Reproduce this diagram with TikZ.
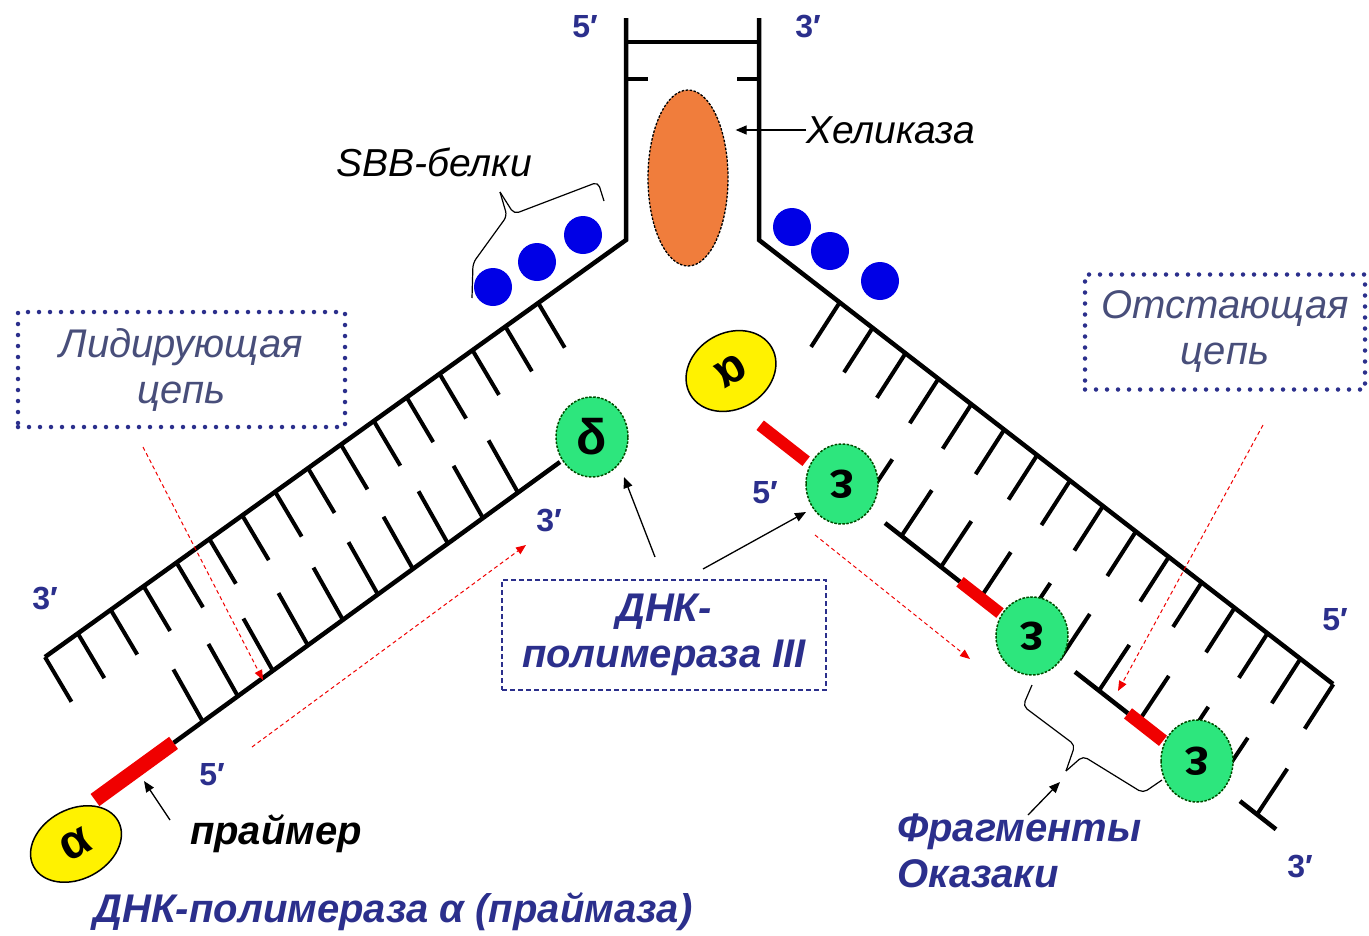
\documentclass[tikz,border=0pt]{standalone}
\usepackage{fontspec}
\setmainfont{Liberation Sans}
\usetikzlibrary{shapes.geometric,calc,arrows.meta}
\definecolor{navy}{RGB}{43,47,140}
\definecolor{slate}{RGB}{72,78,122}
\definecolor{grn}{RGB}{45,230,125}
\definecolor{orng}{RGB}{240,125,60}
\definecolor{ssbblue}{RGB}{0,0,230}
\definecolor{primred}{RGB}{240,0,0}
\begin{document}
\begin{tikzpicture}[x=1pt,y=-1pt,
  strand/.style={line width=4.5pt},
  rung/.style={line width=4pt},
  primerbar/.style={line width=13pt, draw=primred},
  enzyme/.style={ellipse, fill=grn, draw=green!30!black, line width=1.5pt,
    dash pattern=on 2.5pt off 1.5pt, minimum width=72pt, minimum height=80pt,
    inner sep=0pt, font=\bfseries\fontsize{52}{52}\selectfont},
  primase/.style={ellipse, fill=yellow, draw=black, line width=1.5pt,
    minimum width=96pt, minimum height=70pt, inner sep=0pt,
    font=\bfseries\fontsize{48}{48}\selectfont},
  ssb/.style={circle, fill=ssbblue, minimum size=38pt, inner sep=0pt},
  tag/.style={font=\bfseries\fontsize{32}{32}\selectfont, text=navy, inner sep=0pt},
  dotbox/.style={draw=navy, line width=4.5pt, line cap=round,
    dash pattern=on 0pt off 11pt, text=slate, align=center,
    font=\itshape\fontsize{40}{46}\selectfont},
  polbox/.style={draw=navy, line width=1.2pt, dash pattern=on 5pt off 3pt,
    align=center, text=navy, font=\bfseries\itshape\fontsize{40}{46}\selectfont},
  note/.style={font=\itshape\fontsize{39}{40}\selectfont, inner sep=0pt},
  boldnote/.style={font=\bfseries\itshape\fontsize{40}{46}\selectfont, text=navy, inner sep=0pt},
  arr/.style={draw=black, line width=1.3pt, -{Triangle[length=11pt,width=9pt]}},
  redarr/.style={draw=primred, line width=1pt, dash pattern=on 4pt off 3pt,
    -{Triangle[length=10pt,width=8pt]}},
  brc/.style={draw=black, line width=1.2pt, rounded corners=5pt},
]
\useasboundingbox (0,0) rectangle (1369,935);

% ---- fork: parental strands ----
\coordinate (LT) at (626,18);
\coordinate (LA) at (626,240);
\coordinate (LB) at (45,657);
\coordinate (RT) at (759,18);
\coordinate (RA) at (759,240);
\coordinate (RB) at (1333,684);
\coordinate (barL) at (626,42);
\coordinate (barR) at (759,42);
\coordinate (tickL1) at (628,79);
\coordinate (tickL2) at (648,79);
\coordinate (tickR1) at (737,79);
\coordinate (tickR2) at (759,79);

\draw[strand] (LB) -- (LA) -- (LT);
\draw[strand] (RB) -- (RA) -- (RT);
\draw[strand] (barL) -- (barR);
\draw[strand] (tickL1) -- (tickL2);
\draw[strand] (tickR1) -- (tickR2);

% bases on the left parental strand
\foreach \k in {0,...,15} {
  \pgfmathsetmacro\f{(108+40.47*\k)/715}
  \draw[rung] ($(LA)!\f!(LB)$) -- ++(26.5,44.7);
}
% bases on the right parental strand
\foreach \k in {0,...,15} {
  \pgfmathsetmacro\f{(102+41.6*\k)/725.6}
  \draw[rung] ($(RA)!\f!(RB)$) -- ++(-28.6,44.5);
}

% ---- leading strand ----
\coordinate (LC) at (560,462);
\coordinate (LD) at (95,800);
\coordinate (LP) at ($(LC)!0.831!(LD)$);
\foreach \k in {0,...,9} {
  \pgfmathsetmacro\f{(52+43.3*\k)/575}
  \draw[rung] ($(LC)!\f!(LD)$) -- ++(-29.4,-52.2);
}
\draw[strand] (LC) -- (LP);
\draw[primerbar, line width=15pt] (LP) -- (LD);

% ---- lagging strand (Okazaki fragments) ----
\coordinate (RI0) at (862,505);
\coordinate (RI1) at (1276,829.3);
\foreach \k in {0,...,10} {
  \pgfmathsetmacro\f{39.5*\k/414}
  \draw[rung] ($(RI0)!\f!(RI1)$) -- ++(30.3,-45.7);
}
\draw[strand] ($(RI0)!0.0556!(RI1)$) -- ($(RI0)!0.2367!(RI1)$);
\draw[primerbar, line width=12pt] ($(RI0)!0.2367!(RI1)$) -- ($(RI0)!0.3333!(RI1)$);
\draw[strand] ($(RI0)!0.5145!(RI1)$) -- ($(RI0)!0.6425!(RI1)$);
\draw[primerbar] ($(RI0)!0.6425!(RI1)$) -- ($(RI0)!0.7271!(RI1)$);
\draw[strand] ($(RI0)!0.913!(RI1)$) -- (RI1);
\draw[primerbar, line width=12pt] ($(RI0)!-0.246!(RI1)$) -- ($(RI0)!-0.135!(RI1)$);

% ---- proteins ----
\node[ellipse, fill=orng, draw=black, line width=1.3pt, dash pattern=on 2.5pt off 1.5pt,
  minimum width=80pt, minimum height=176pt, inner sep=0pt] (hel) at (688,178) {};
\node[ssb] (sL1) at (493,287) {};
\node[ssb] (sL2) at (537,262) {};
\node[ssb] (sL3) at (583,235) {};
\node[ssb] (sR1) at (792,227) {};
\node[ssb] (sR2) at (830,251) {};
\node[ssb] (sR3) at (880,281) {};

\node[enzyme, font=\bfseries\fontsize{50}{50}\selectfont] (delta) at (592,437) {δ};
\node[enzyme, rotate=180] (eps1) at (842,484) {ε};
\node[enzyme, rotate=180, minimum height=78pt] (eps2) at (1032,636) {ε};
\node[enzyme, rotate=180, minimum height=82pt] (eps3) at (1197,761) {ε};
\node[primase, rotate=28] (alphaL) at (76,844) {α};
\node[primase, rotate=210, minimum width=94pt, minimum height=76pt] (alphaR) at (731,371) {α};

% ---- end labels ----
\node[tag] (t5top) at (585,27) {5′};
\node[tag] (t3top) at (808,27) {3′};
\node[tag] (t3left) at (45,598) {3′};
\node[tag] (t3lead) at (549,520) {3′};
\node[tag] (t5lead) at (212,775) {5′};
\node[tag] (t5lag) at (765,493) {5′};
\node[tag] (t5right) at (1335,620) {5′};
\node[tag] (t3right) at (1300,866) {3′};

% ---- captions ----
\node[note, anchor=west] (helLabel) at (806,130) {Хеликаза};
\draw[arr] (helLabel.west) -- ([xshift=7pt]hel.east |- helLabel.west);

\node[note] (ssbLabel) at (434,162) {SBB-белки};
% brace over the SSB proteins
\coordinate (sbA) at (472,298);
\coordinate (sbB) at (473,263);
\coordinate (sbC) at (507,216);
\coordinate (sbTip) at (500,192);
\coordinate (sbD) at (514,214);
\coordinate (sbE) at (598,182);
\coordinate (sbF) at (604,201);
\draw[brc] (sbA) -- (sbB) -- (sbC) -- (sbTip);
\draw[brc] (sbTip) -- (sbD) -- (sbE) -- (sbF);

\node[dotbox, minimum width=327pt, minimum height=115pt] (leadBox) at (181.5,369.5)
  {Лидирующая\\цепь};
\node[dotbox, minimum width=280pt, minimum height=115pt] (lagBox) at (1225,332)
  {Отстающая\\цепь};

\node[polbox, minimum width=324pt, minimum height=110pt] (polBox) at (664,635)
  {ДНК-\\полимераза III};

\node[font=\bfseries\itshape\fontsize{40}{40}\selectfont, inner sep=0pt] (primLabel) at (276,834) {праймер};
\node[boldnote] (polA) at (393,912) {ДНК-полимераза α (праймаза)};
\node[boldnote, anchor=north west, align=left] (okLabel) at (897,814) {Фрагменты\\Оказаки};

% ---- pointer arrows ----
\coordinate (primTail) at (170,820);
\coordinate (primTip) at (144,781);
\draw[arr] (primTail) -- (primTip);

\coordinate (polTail1) at (655,557);
\coordinate (polTip1) at (624,477);
\coordinate (polTail2) at (703,569);
\coordinate (polTip2) at (806,512);
\draw[arr] (polTail1) -- (polTip1);
\draw[arr] (polTail2) -- (polTip2);

% brace over one Okazaki fragment
\coordinate (okA) at (1032,685);
\coordinate (okB) at (1023,706);
\coordinate (okC) at (1075,745);
\coordinate (okTip) at (1066,771);
\coordinate (okD) at (1083,756);
\coordinate (okE) at (1143,793);
\coordinate (okF) at (1162,780);
\draw[brc] (okA) -- (okB) -- (okC) -- (okTip);
\draw[brc] (okTip) -- (okD) -- (okE) -- (okF);
\coordinate (okTail) at (1028,815);
\coordinate (okHead) at (1060,782);
\draw[arr] (okTail) -- (okHead);

% ---- direction of synthesis ----
\coordinate (ra1) at (143,447);
\coordinate (ra1t) at (263,680);
\coordinate (ra2) at (252,747);
\coordinate (ra2t) at (526,545);
\coordinate (ra3) at (815,535);
\coordinate (ra3t) at (970,659);
\coordinate (ra4) at (1263,425);
\coordinate (ra4t) at (1118,691);
\draw[redarr] (ra1) -- (ra1t);
\draw[redarr] (ra2) -- (ra2t);
\draw[redarr] (ra3) -- (ra3t);
\draw[redarr] (ra4) -- (ra4t);
\end{tikzpicture}
\end{document}
